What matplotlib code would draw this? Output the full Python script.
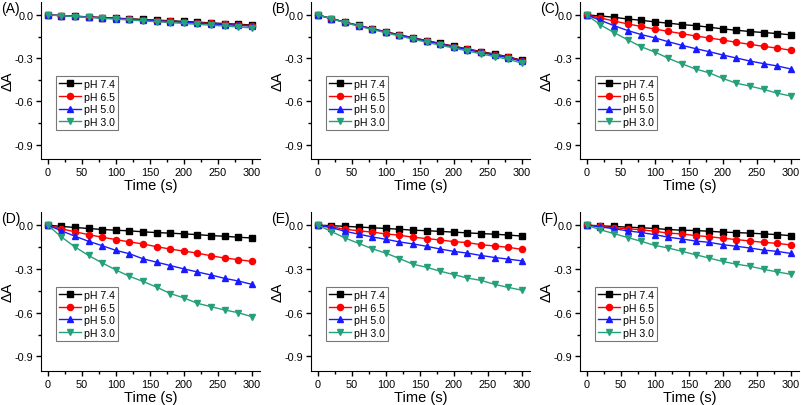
import matplotlib
matplotlib.use("Agg")
import matplotlib.pyplot as plt
from matplotlib.ticker import MultipleLocator

plt.rcParams['font.family'] = ['Liberation Sans', 'DejaVu Sans']

time = [0, 20, 40, 60, 80, 100, 120, 140, 160, 180, 200, 220, 240, 260, 280, 300]
labels = ['pH 7.4', 'pH 6.5', 'pH 5.0', 'pH 3.0']
panel_names = ['(A)', '(B)', '(C)', '(D)', '(E)', '(F)']

# panel A
a_74 = [0, -0.004, -0.009, -0.013, -0.018, -0.022, -0.027, -0.031, -0.036, -0.040, -0.045, -0.050, -0.055, -0.060, -0.064, -0.070]
a_65 = [0, -0.004, -0.009, -0.014, -0.019, -0.024, -0.029, -0.034, -0.039, -0.044, -0.049, -0.054, -0.059, -0.064, -0.069, -0.074]
a_50 = [0, -0.005, -0.010, -0.015, -0.020, -0.025, -0.030, -0.036, -0.041, -0.046, -0.051, -0.057, -0.062, -0.067, -0.072, -0.078]
a_30 = [0, -0.005, -0.011, -0.017, -0.023, -0.029, -0.035, -0.041, -0.047, -0.053, -0.059, -0.065, -0.071, -0.077, -0.083, -0.090]
# panel B
b_74 = [0, -0.025, -0.050, -0.073, -0.095, -0.117, -0.138, -0.158, -0.178, -0.198, -0.217, -0.236, -0.254, -0.272, -0.290, -0.315]
b_65 = [0, -0.025, -0.050, -0.074, -0.096, -0.118, -0.139, -0.160, -0.180, -0.200, -0.219, -0.238, -0.257, -0.275, -0.293, -0.318]
b_50 = [0, -0.026, -0.051, -0.075, -0.097, -0.120, -0.141, -0.162, -0.182, -0.202, -0.222, -0.241, -0.260, -0.279, -0.297, -0.322]
b_30 = [0, -0.027, -0.053, -0.078, -0.101, -0.124, -0.146, -0.168, -0.189, -0.210, -0.230, -0.250, -0.270, -0.289, -0.308, -0.334]
# panel C
c_74 = [0, -0.007, -0.016, -0.028, -0.037, -0.048, -0.057, -0.067, -0.074, -0.085, -0.097, -0.106, -0.115, -0.122, -0.129, -0.138]
c_65 = [0, -0.021, -0.042, -0.062, -0.080, -0.098, -0.114, -0.130, -0.146, -0.160, -0.174, -0.190, -0.204, -0.218, -0.230, -0.245]
c_50 = [0, -0.037, -0.074, -0.108, -0.136, -0.159, -0.186, -0.211, -0.234, -0.255, -0.278, -0.299, -0.320, -0.338, -0.354, -0.375]
c_30 = [0, -0.069, -0.122, -0.172, -0.221, -0.257, -0.301, -0.340, -0.375, -0.402, -0.441, -0.474, -0.494, -0.517, -0.543, -0.563]
# panel D
d_74 = [0, -0.009, -0.016, -0.023, -0.030, -0.035, -0.039, -0.046, -0.051, -0.055, -0.060, -0.065, -0.072, -0.076, -0.083, -0.088]
d_65 = [0, -0.025, -0.046, -0.065, -0.083, -0.099, -0.115, -0.129, -0.148, -0.164, -0.178, -0.192, -0.210, -0.226, -0.236, -0.249]
d_50 = [0, -0.039, -0.076, -0.111, -0.141, -0.173, -0.196, -0.231, -0.254, -0.277, -0.300, -0.321, -0.342, -0.365, -0.383, -0.406]
d_30 = [0, -0.081, -0.150, -0.208, -0.259, -0.307, -0.351, -0.386, -0.425, -0.469, -0.499, -0.536, -0.559, -0.582, -0.600, -0.628]
# panel E
e_74 = [0, -0.004, -0.008, -0.013, -0.018, -0.023, -0.028, -0.035, -0.038, -0.043, -0.048, -0.053, -0.058, -0.062, -0.068, -0.075]
e_65 = [0, -0.012, -0.028, -0.039, -0.048, -0.060, -0.069, -0.083, -0.092, -0.102, -0.113, -0.120, -0.134, -0.143, -0.152, -0.166]
e_50 = [0, -0.018, -0.042, -0.062, -0.081, -0.097, -0.115, -0.129, -0.145, -0.164, -0.180, -0.192, -0.208, -0.222, -0.233, -0.245]
e_30 = [0, -0.044, -0.088, -0.125, -0.162, -0.192, -0.229, -0.268, -0.289, -0.316, -0.339, -0.363, -0.379, -0.406, -0.427, -0.446]
# panel F
f_74 = [0, -0.005, -0.009, -0.014, -0.018, -0.023, -0.030, -0.035, -0.037, -0.042, -0.048, -0.051, -0.055, -0.060, -0.065, -0.072]
f_65 = [0, -0.009, -0.018, -0.025, -0.032, -0.042, -0.055, -0.060, -0.072, -0.079, -0.090, -0.099, -0.109, -0.118, -0.125, -0.136]
f_50 = [0, -0.012, -0.025, -0.039, -0.051, -0.065, -0.083, -0.095, -0.109, -0.118, -0.134, -0.145, -0.157, -0.171, -0.180, -0.194]
f_30 = [0, -0.032, -0.058, -0.085, -0.111, -0.139, -0.157, -0.180, -0.203, -0.226, -0.249, -0.268, -0.282, -0.303, -0.321, -0.337]

panels = [
    [a_74, a_65, a_50, a_30],
    [b_74, b_65, b_50, b_30],
    [c_74, c_65, c_50, c_30],
    [d_74, d_65, d_50, d_30],
    [e_74, e_65, e_50, e_30],
    [f_74, f_65, f_50, f_30],
]

colors = ['black', '#ff0000', '#1a1aff', '#26a07a']
markers = ['s', 'o', '^', 'v']

W, H = 801, 406
fig = plt.figure(figsize=(W / 100, H / 100), dpi=100)

# axes boxes in pixels: left, right, top, bottom
col_x = [(41, 260), (311, 530), (580, 799)]
row_y = [(3, 160), (213, 372)]

for i, series in enumerate(panels):
    r, c = divmod(i, 3)
    x0, x1 = col_x[c]
    y0, y1 = row_y[r]
    ax = fig.add_axes([x0 / W, 1 - y1 / H, (x1 - x0) / W, (y1 - y0) / H])
    for vals, col, mk, lab in zip(series, colors, markers, labels):
        ax.plot(time, vals, color=col, marker=mk, markersize=4.4, lw=1.0, label=lab)
    ax.set_xlim(-10, 312)
    ax.set_ylim(-1.0, 0.09)
    ax.xaxis.set_major_locator(MultipleLocator(50))
    ax.xaxis.set_minor_locator(MultipleLocator(25))
    ax.yaxis.set_major_locator(MultipleLocator(0.3))
    ax.yaxis.set_minor_locator(MultipleLocator(0.15))
    ax.yaxis.set_major_formatter(plt.FormatStrFormatter('%.1f'))
    ax.spines['top'].set_visible(False)
    ax.spines['right'].set_visible(False)
    ax.tick_params(which='major', direction='out', length=3.5, width=1, labelsize=7.8, pad=2)
    ax.tick_params(which='minor', direction='out', length=2, width=1)
    ax.set_xlabel('Time (s)', fontsize=10.5, labelpad=1)
    ax.set_ylabel('ΔA', fontsize=10.5)
    ax.yaxis.set_label_coords(-26 / (x1 - x0), 0.5)
    leg = ax.legend(loc='upper left', bbox_to_anchor=(0.07, 0.53), fontsize=7.6,
                    frameon=True, fancybox=False, edgecolor='#555555',
                    handlelength=2.0, handletextpad=0.3, borderpad=0.3,
                    labelspacing=0.25, borderaxespad=0)
    leg.get_frame().set_linewidth(0.8)
    # panel letter at the top left of each panel
    fig.text(max(x0 - 40, 1) / W, 1 - (y0 + 6) / H, panel_names[i], fontsize=10,
             ha='left', va='center')

fig.savefig('out.png', dpi=100)
